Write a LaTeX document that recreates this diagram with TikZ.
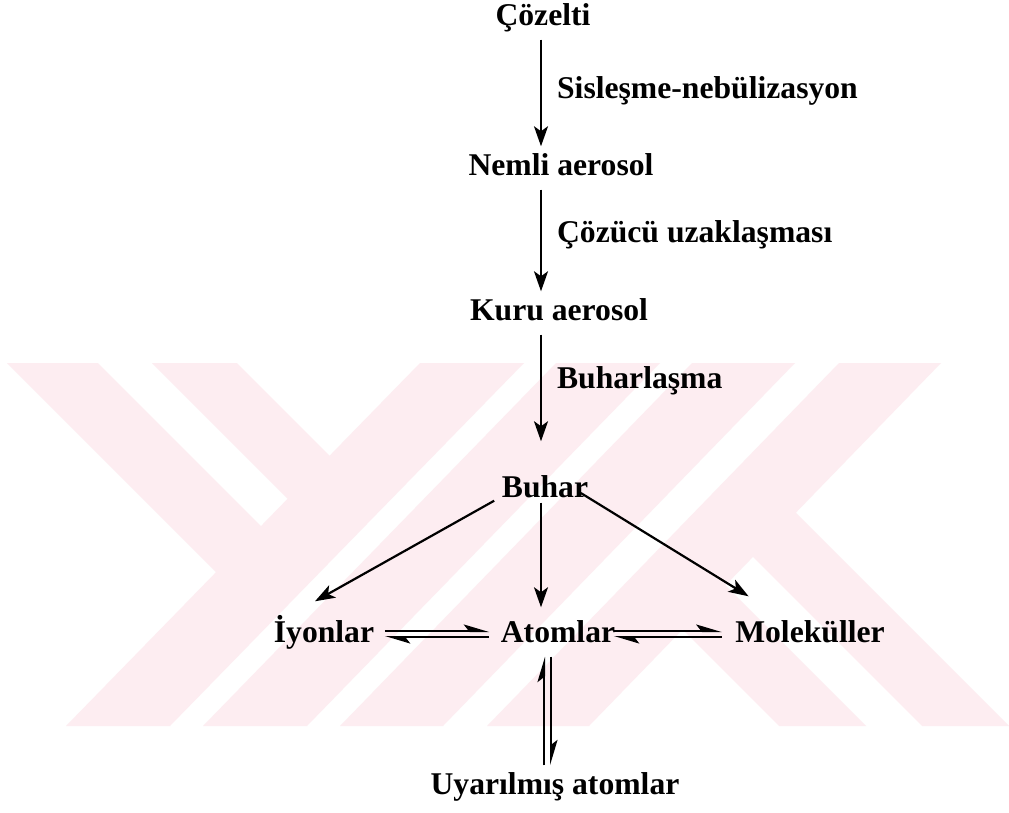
\documentclass[tikz,border=0pt]{standalone}
\usepackage{fontspec}
\setmainfont{Liberation Serif}
\usetikzlibrary{arrows.meta}
\definecolor{wmpink}{RGB}{253,237,241}
\tikzset{
  madde/.style={font=\fontsize{9}{11}\selectfont\bfseries, anchor=base, text height=0.22cm, text depth=0.08cm, inner sep=0.06cm},
  surec/.style={font=\fontsize{9}{11}\selectfont\bfseries, anchor=west, xshift=0.09cm, text height=0.22cm, text depth=0.08cm, inner sep=0.06cm},
  ok/.style={-{Stealth[length=0.2cm,width=0.14cm,inset=0.05cm]}, line width=0.022cm},
  denge/.style={-{Stealth[harpoon,length=0.22cm,width=0.13cm,inset=0.05cm]}, line width=0.02cm}
}
\begin{document}
\begin{tikzpicture}[x=0.01cm,y=-0.01cm]
\fill[white] (0,0) rectangle (1009,812);
\useasboundingbox (0,0) rectangle (1009,812);
% watermark
\fill[wmpink] (66,726)--(170,726)--(524,363)--(420,363)--cycle;
\fill[wmpink] (203,726)--(307,726)--(660,363)--(556,363)--cycle;
\fill[wmpink] (340,726)--(443,726)--(795,363)--(692,363)--cycle;
\fill[wmpink] (487,726)--(589,726)--(941,363)--(839,363)--cycle;
\fill[wmpink] (7,363)--(98,363)--(287,552)--(242,598)--cycle;
\fill[wmpink] (152,363)--(237,363)--(356,482)--(314,525)--cycle;
\fill[wmpink] (779,726)--(866,726)--(700,560)--(657,604)--cycle;
\fill[wmpink] (922,726)--(1009,726)--(770,487)--(727,531)--cycle;

\coordinate (omurga) at (541,0);
\coordinate (solhat) at (544,0);
\coordinate (saghat) at (551,0);

\node[madde] (cozelti) at (543,25) {Çözelti};
\node[madde] (nemli) at (561,175) {Nemli aerosol};
\node[madde] (kuru) at (559,320) {Kuru aerosol};
\node[madde] (buhar) at (545,497) {Buhar};
\node[madde] (iyon) at (324,642) {İyonlar};
\node[madde] (atom) at (558,642) {Atomlar};
\node[madde] (molekul) at (810,642) {Moleküller};
\node[madde] (uyarilmis) at (555,794) {Uyarılmış atomlar};

\draw[ok] (cozelti.south -| omurga) -- node[surec, pos=0.49] {Sisleşme-nebülizasyon} (nemli.north -| omurga);
\draw[ok] (nemli.south -| omurga) -- node[surec, pos=0.45] {Çözücü uzaklaşması} (kuru.north -| omurga);
\draw[ok, shorten >=0.27cm] (kuru.south -| omurga) -- node[surec, pos=0.35] {Buharlaşma} (buhar.north -| omurga);

\draw[ok] ([shift={(-1,-11)}]buhar.south west) -- ([shift={(-9,-12)}]iyon.north);
\draw[ok, shorten <=-0.09cm, shorten >=0.06cm] (buhar.south -| omurga) -- (atom.north -| omurga);
\draw[ok] ([shift={(-14,3)}]buhar.east) -- ([shift={(20,-17)}]molekul.north west);

\draw[denge] ([shift={(4,-4)}]iyon.east) -- ([shift={(-5,-4)}]atom.west);
\draw[denge] ([shift={(-5,2)}]atom.west) -- ([shift={(4,2)}]iyon.east);
\draw[denge] ([shift={(-8,-4)}]atom.east) -- ([shift={(-7,-4)}]molekul.west);
\draw[denge] ([shift={(-7,2)}]molekul.west) -- ([shift={(-8,2)}]atom.east);
\draw[denge] (uyarilmis.north -| solhat) -- (atom.south -| solhat);
\draw[denge] (atom.south -| saghat) -- (uyarilmis.north -| saghat);
\end{tikzpicture}
\end{document}
